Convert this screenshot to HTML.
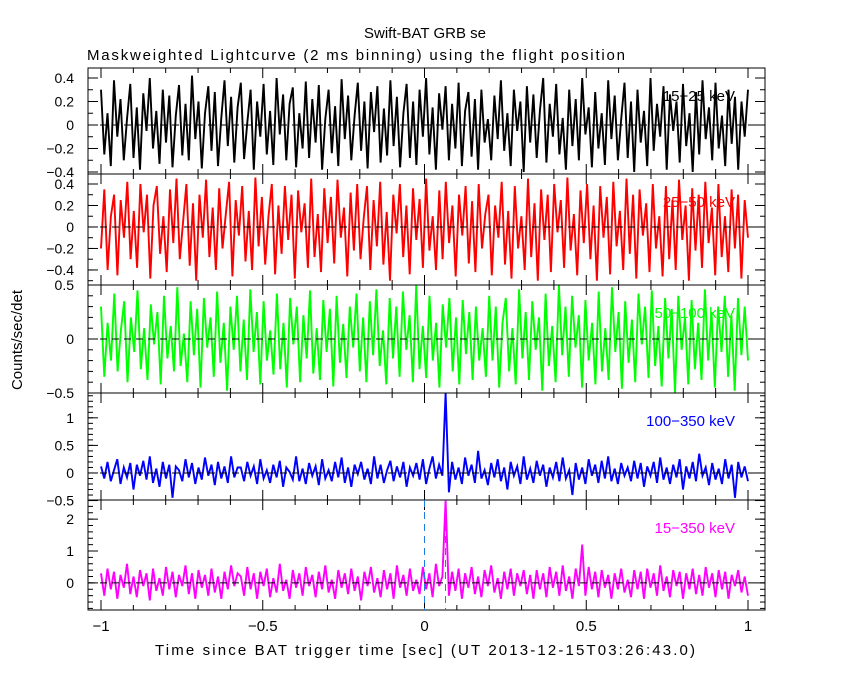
<!DOCTYPE html>
<html><head><meta charset="utf-8"><style>
body{margin:0;background:#fff;}
svg{display:block;font-family:"Liberation Sans",sans-serif;}
</style></head><body>
<svg id="chart" width="850" height="680" viewBox="0 0 850 680">
<text x="425" y="38" text-anchor="middle" font-size="15">Swift-BAT GRB se</text>
<text x="356" y="60" text-anchor="middle" font-size="15" textLength="538">Maskweighted Lightcurve (2 ms binning) using the flight position</text>
<text x="22" y="340" text-anchor="middle" font-size="15" transform="rotate(-90 22 340)">Counts/sec/det</text>
<text x="425" y="655" text-anchor="middle" font-size="15" textLength="540">Time since BAT trigger time [sec] (UT 2013-12-15T03:26:43.0)</text>
<g id="plots"></g>
</svg>
<script>
const xTicks = [-1, -0.5, 0, 0.5, 1];
const xTickLabels = ["−1", "−0.5", "0", "0.5", "1"];
const bandLabels = ["15−25 keV", "25−50 keV", "50−100 keV", "100−350 keV", "15−350 keV"];
const yTicks1 = [-0.4, -0.2, 0, 0.2, 0.4];
const yTicks2 = [-0.4, -0.2, 0, 0.2, 0.4];
const yTicks3 = [-0.5, 0, 0.5];
const yTicks4 = [-0.5, 0, 0.5, 1];
const yTicks5 = [0, 1, 2];
const rate1 = [0.3,-0.25,0.1,-0.35,0.38,-0.1,0.22,-0.3,0.05,0.35,-0.28,0.15,-0.38,0.27,-0.05,0.4,-0.2,0.12,-0.33,0.3,-0.15,0.25,-0.36,0.08,0.34,-0.26,0.18,-0.3,0.42,-0.12,0.2,-0.37,0.1,0.33,-0.22,0.28,-0.35,0.06,0.38,-0.18,0.24,-0.32,0.15,0.36,-0.29,0.02,0.3,-0.38,0.2,-0.1,0.35,-0.25,0.12,-0.34,0.4,-0.08,0.26,-0.3,0.18,0.32,-0.36,0.1,-0.2,0.37,-0.28,0.22,-0.15,0.34,-0.38,0.05,0.3,-0.24,0.16,-0.35,0.39,-0.12,0.25,-0.3,0.08,0.36,-0.22,0.2,-0.37,0.28,-0.06,0.33,-0.32,0.14,-0.26,0.38,-0.18,0.24,-0.36,0.1,0.35,-0.28,0.2,-0.34,0.3,-0.1,0.4,-0.25,0.15,-0.38,0.27,-0.04,0.33,-0.3,0.18,-0.2,0.36,-0.35,0.12,0.28,-0.27,0.22,-0.38,0.3,-0.15,0.05,-0.3,0.25,-0.12,0.38,-0.22,0.1,-0.35,0.3,-0.05,0.2,-0.4,0.33,-0.15,0.26,-0.28,0.12,0.4,-0.32,0.18,-0.1,0.35,-0.25,0.06,-0.38,0.3,-0.18,0.22,-0.3,0.4,-0.08,0.15,-0.36,0.28,-0.2,0.1,-0.34,0.38,-0.12,0.25,-0.3,0.05,0.36,-0.28,0.2,-0.4,0.3,-0.15,0.12,-0.35,0.4,-0.22,0.18,-0.1,0.33,-0.38,0.26,-0.05,0.2,-0.32,0.35,-0.18,0.1,-0.4,0.28,-0.25,0.38,-0.12,0.15,-0.3,0.36,-0.2,0.08,-0.35,0.3,-0.16,0.24,-0.38,0.2,-0.1,0.3];
const rate2 = [-0.2,0.35,-0.4,0.1,0.3,-0.45,0.25,-0.1,0.42,-0.3,0.15,-0.38,0.4,-0.05,0.3,-0.48,0.2,0.38,-0.25,0.1,-0.42,0.35,-0.15,0.45,-0.3,0.05,0.4,-0.36,0.22,-0.5,0.3,-0.1,0.44,-0.28,0.18,-0.4,0.36,-0.2,0.12,0.42,-0.46,0.25,-0.08,0.38,-0.32,0.15,-0.4,0.46,-0.18,0.28,-0.35,0.1,0.4,-0.44,0.2,-0.25,0.38,-0.12,0.3,-0.48,0.34,-0.05,0.22,-0.38,0.45,-0.28,0.12,-0.42,0.36,-0.15,0.28,-0.34,0.44,-0.1,0.18,-0.46,0.32,-0.22,0.4,-0.3,0.08,0.38,-0.4,0.25,-0.18,0.42,-0.35,0.14,-0.5,0.3,-0.06,0.4,-0.28,0.2,-0.44,0.36,-0.12,0.26,-0.38,0.45,-0.22,0.1,-0.4,0.34,-0.3,0.42,-0.15,0.2,-0.46,0.3,-0.08,0.38,-0.34,0.24,-0.42,0.4,-0.2,0.12,0.3,-0.45,0.2,-0.1,0.42,-0.35,0.15,-0.48,0.38,-0.2,0.1,-0.4,0.45,-0.28,0.22,-0.5,0.35,-0.12,0.3,-0.42,0.4,-0.05,0.25,-0.38,0.46,-0.22,0.12,-0.45,0.34,-0.15,0.4,-0.3,0.2,-0.5,0.38,-0.1,0.28,-0.44,0.42,-0.18,0.15,-0.4,0.45,-0.25,0.3,-0.48,0.35,-0.08,0.22,-0.42,0.4,-0.2,0.1,-0.46,0.38,-0.3,0.25,-0.4,0.44,-0.12,0.2,-0.5,0.36,-0.22,0.3,-0.38,0.42,-0.15,0.18,-0.45,0.4,-0.28,0.1,-0.42,0.35,-0.2,0.3,-0.48,0.25,-0.1];
const rate3 = [0.3,-0.35,0.15,-0.2,0.42,-0.3,0.08,0.35,-0.4,0.2,-0.12,0.45,-0.28,0.1,-0.38,0.32,-0.05,0.25,-0.42,0.4,-0.18,0.12,-0.3,0.48,-0.25,0.05,-0.4,0.35,-0.15,0.28,-0.45,0.38,-0.08,0.2,-0.35,0.44,-0.22,0.15,-0.48,0.3,-0.1,0.4,-0.3,0.18,-0.38,0.46,-0.12,0.25,-0.42,0.35,-0.2,0.08,-0.33,0.42,-0.28,0.15,-0.45,0.38,-0.05,0.3,-0.4,0.22,-0.18,0.45,-0.32,0.1,-0.38,0.36,-0.12,0.28,-0.44,0.4,-0.22,0.14,-0.36,0.3,-0.08,0.42,-0.3,0.2,-0.4,0.35,-0.15,0.46,-0.25,0.08,-0.42,0.38,-0.18,0.3,-0.35,0.44,-0.1,0.22,-0.4,0.5,-0.28,0.12,-0.36,0.4,-0.2,0.15,-0.45,0.32,-0.08,0.38,-0.3,0.2,-0.42,0.36,-0.14,0.25,-0.38,0.3,-0.2,0.1,-0.35,0.4,-0.2,0.3,-0.45,0.15,0.38,-0.3,0.1,-0.42,0.46,-0.18,0.25,-0.38,0.35,-0.1,0.2,-0.48,0.42,-0.25,0.12,-0.4,0.5,-0.15,0.3,-0.35,0.4,-0.08,0.22,-0.45,0.36,-0.2,0.15,-0.42,0.44,-0.3,0.1,-0.38,0.48,-0.12,0.25,-0.46,0.35,-0.22,0.18,-0.4,0.42,-0.05,0.3,-0.36,0.45,-0.25,0.12,-0.44,0.38,-0.18,0.28,-0.5,0.4,-0.1,0.2,-0.42,0.36,-0.28,0.15,-0.38,0.46,-0.2,0.25,-0.45,0.3,-0.12,0.4,-0.35,0.22,-0.48,0.38,-0.15,0.3,-0.2];
const rate4 = [0.12,-0.1,0.2,-0.15,0.05,0.25,-0.2,0.1,-0.08,0.18,-0.3,0.15,-0.05,0.22,-0.12,0.3,-0.18,0.08,-0.25,0.2,-0.1,0.15,-0.45,0.12,0.05,-0.15,0.25,-0.08,0.18,-0.2,0.1,-0.12,0.28,-0.05,0.15,-0.22,0.2,-0.1,0.12,-0.18,0.3,-0.08,0.1,0.1,-0.15,0.2,-0.05,0.12,-0.2,0.25,-0.1,0.05,-0.18,0.15,-0.08,0.22,-0.25,0.1,0.02,-0.12,0.3,-0.15,0.08,-0.2,0.18,-0.05,0.12,-0.22,0.25,-0.1,0.05,-0.15,0.2,-0.08,0.28,-0.18,0.1,-0.25,0.15,-0.02,0.2,-0.12,0.08,-0.2,0.3,-0.1,0.15,-0.18,0.05,0.22,-0.15,0.12,-0.08,0.2,-0.25,0.1,-0.05,0.18,-0.12,0.25,-0.2,0.08,0.3,-0.1,0.15,-0.05,1.45,-0.35,0.2,-0.12,0.1,-0.2,0.28,-0.05,0.15,-0.18,0.4,-0.1,0.05,-0.22,0.18,-0.08,0.25,-0.15,0.1,-0.3,0.2,-0.05,0.12,-0.2,0.3,-0.12,0.08,-0.18,0.22,-0.05,0.15,-0.25,0.1,-0.08,0.2,-0.15,0.28,-0.1,0.05,-0.4,0.18,-0.12,0.1,-0.2,0.25,-0.05,0.15,-0.18,0.22,-0.1,0.3,-0.15,0.08,-0.2,0.18,-0.05,0.1,-0.15,0.22,-0.1,0.18,-0.25,0.12,-0.05,0.2,-0.18,0.28,-0.12,0.1,-0.2,0.15,-0.08,0.25,-0.3,0.12,-0.1,0.2,-0.15,0.35,-0.05,0.1,-0.22,0.18,-0.12,0.08,-0.2,0.25,-0.1,0.15,-0.45,0.2,-0.08,0.12,-0.15];
const rate5 = [0.3,-0.4,0.45,-0.2,0.35,-0.5,0.25,-0.15,0.6,-0.35,0.2,-0.45,0.4,-0.1,0.3,-0.55,0.45,-0.25,0.15,-0.4,0.5,-0.2,0.35,-0.45,0.25,-0.1,0.55,-0.35,0.3,-0.5,0.4,-0.15,0.25,-0.4,0.45,-0.3,0.2,-0.5,0.35,-0.2,0.55,-0.1,0.3,0.2,-0.4,0.5,-0.2,0.3,-0.5,0.35,-0.1,0.45,-0.45,0.15,-0.3,0.6,-0.25,0.1,-0.5,0.4,-0.15,0.3,-0.4,0.5,-0.1,0.25,-0.45,0.35,-0.2,0.55,-0.3,0.1,-0.5,0.4,-0.15,0.3,-0.35,0.45,-0.25,0.2,-0.55,0.35,-0.1,0.5,-0.3,0.15,-0.45,0.4,-0.2,0.3,-0.5,0.55,-0.15,0.25,-0.4,0.45,-0.25,0.1,-0.35,0.5,-0.2,0.3,-0.45,0.6,-0.1,0.2,2.6,-0.4,0.35,-0.25,0.45,-0.5,0.3,-0.15,0.5,-0.35,0.2,-0.45,0.4,-0.1,0.55,-0.3,0.15,-0.5,0.35,-0.2,0.45,-0.4,0.3,-0.1,0.4,-0.35,0.25,-0.5,0.4,-0.2,0.3,-0.45,0.5,-0.15,0.35,-0.4,0.55,-0.25,0.2,-0.5,0.45,-0.1,1.2,-0.4,0.5,-0.2,0.35,-0.45,0.4,-0.15,0.25,-0.5,0.3,-0.2,0.45,-0.3,0.1,-0.45,0.4,-0.2,0.35,-0.5,0.45,-0.15,0.3,-0.4,0.55,-0.25,0.2,-0.45,0.4,-0.1,0.35,-0.5,0.3,-0.2,0.45,-0.35,0.25,-0.4,0.5,-0.15,0.3,-0.45,0.4,-0.2,0.35,-0.5,0.25,-0.1,0.4,-0.3,0.2,-0.4];
const panels = [
 {top:68,bot:174,ymin:-0.417,ymax:0.485,ticks:yTicks1,data:rate1,color:"#000000",label:bandLabels[0],minor:0.1,name:"panel-15-25kev"},
 {top:174,bot:285,ymin:-0.54,ymax:0.493,ticks:yTicks2,data:rate2,color:"#ff0000",label:bandLabels[1],minor:0.1,name:"panel-25-50kev"},
 {top:285,bot:393,ymin:-0.5,ymax:0.5,ticks:yTicks3,data:rate3,color:"#00ff00",label:bandLabels[2],minor:0.1,name:"panel-50-100kev"},
 {top:393,bot:500,ymin:-0.49,ymax:1.45,ticks:yTicks4,data:rate4,color:"#0000ff",label:bandLabels[3],minor:0.1,name:"panel-100-350kev"},
 {top:500,bot:610,ymin:-0.85,ymax:2.6,ticks:yTicks5,data:rate5,color:"#ff00ff",label:bandLabels[4],minor:0.2,name:"panel-15-350kev"}
];
const L=88,R=765,X0=101,X1=748;
const xs=v=>X0+(v+1)/2*(X1-X0);
const NS="http://www.w3.org/2000/svg";
const root=document.getElementById("plots");
function mk(tag,attrs,parent){const e=document.createElementNS(NS,tag);for(const k in attrs)e.setAttribute(k,attrs[k]);(parent||root).appendChild(e);return e;}
panels.forEach((p,pi)=>{
 const ys=v=>p.bot-(v-p.ymin)/(p.ymax-p.ymin)*(p.bot-p.top);
 const g=mk("g",{});
 
 
 const n=p.data.length;
 let d="";
 p.data.forEach((v,i)=>{const x=X0+i/(n-1)*(X1-X0);const y=Math.max(p.top,Math.min(p.bot,ys(v)));d+=(i?"L":"M")+x.toFixed(1)+","+y.toFixed(1);});
 const s=mk("path",{d:d,fill:"none",stroke:p.color,"stroke-width":1.9},g);
 
 
 const z=mk("line",{x1:L,x2:R,y1:ys(0),y2:ys(0),stroke:"#000","stroke-dasharray":"7,5"},g);
 
 
 const f=mk("rect",{x:L,y:p.top,width:R-L,height:p.bot-p.top,fill:"none",stroke:"#000","stroke-width":1},g);
 
 
 p.ticks.forEach(t=>{const y=ys(t);
  mk("line",{x1:L,x2:L+10,y1:y,y2:y,stroke:"#000"},g);mk("line",{x1:R-10,x2:R,y1:y,y2:y,stroke:"#000"},g);
  const tx=mk("text",{x:L-14,y:y+5,"text-anchor":"end","font-size":14},g);tx.textContent=String(t).replace("-","−");
  
  
 });
 for(let m=Math.ceil(p.ymin/p.minor)*p.minor;m<=p.ymax;m+=p.minor){const y=ys(m);mk("line",{x1:L,x2:L+5,y1:y,y2:y,stroke:"#000"},g);mk("line",{x1:R-5,x2:R,y1:y,y2:y,stroke:"#000"},g);}
 for(let k=-10;k<=10;k++){const x=xs(k/10);const big=k%5==0;const h=big?10:5;
  mk("line",{x1:x,x2:x,y1:p.top,y2:p.top+h,stroke:"#000"},g);mk("line",{x1:x,x2:x,y1:p.bot-h,y2:p.bot,stroke:"#000"},g);}
 const lb=mk("text",{x:735,y:p.top+33,"text-anchor":"end","font-size":15,fill:p.color},g);
 lb.textContent=p.label;
 
 
 if(pi==4){
  [0,0.065].forEach(t=>{const v=mk("line",{x1:xs(t),x2:xs(t),y1:p.top,y2:p.bot,stroke:"#1e7be0","stroke-dasharray":"7,5"},g);
   
   });
 }
});
xTicks.forEach((t,i)=>{const tx=mk("text",{x:xs(t),y:631,"text-anchor":"middle","font-size":15});tx.textContent=xTickLabels[i];
 
 });
</script>
</body></html>
